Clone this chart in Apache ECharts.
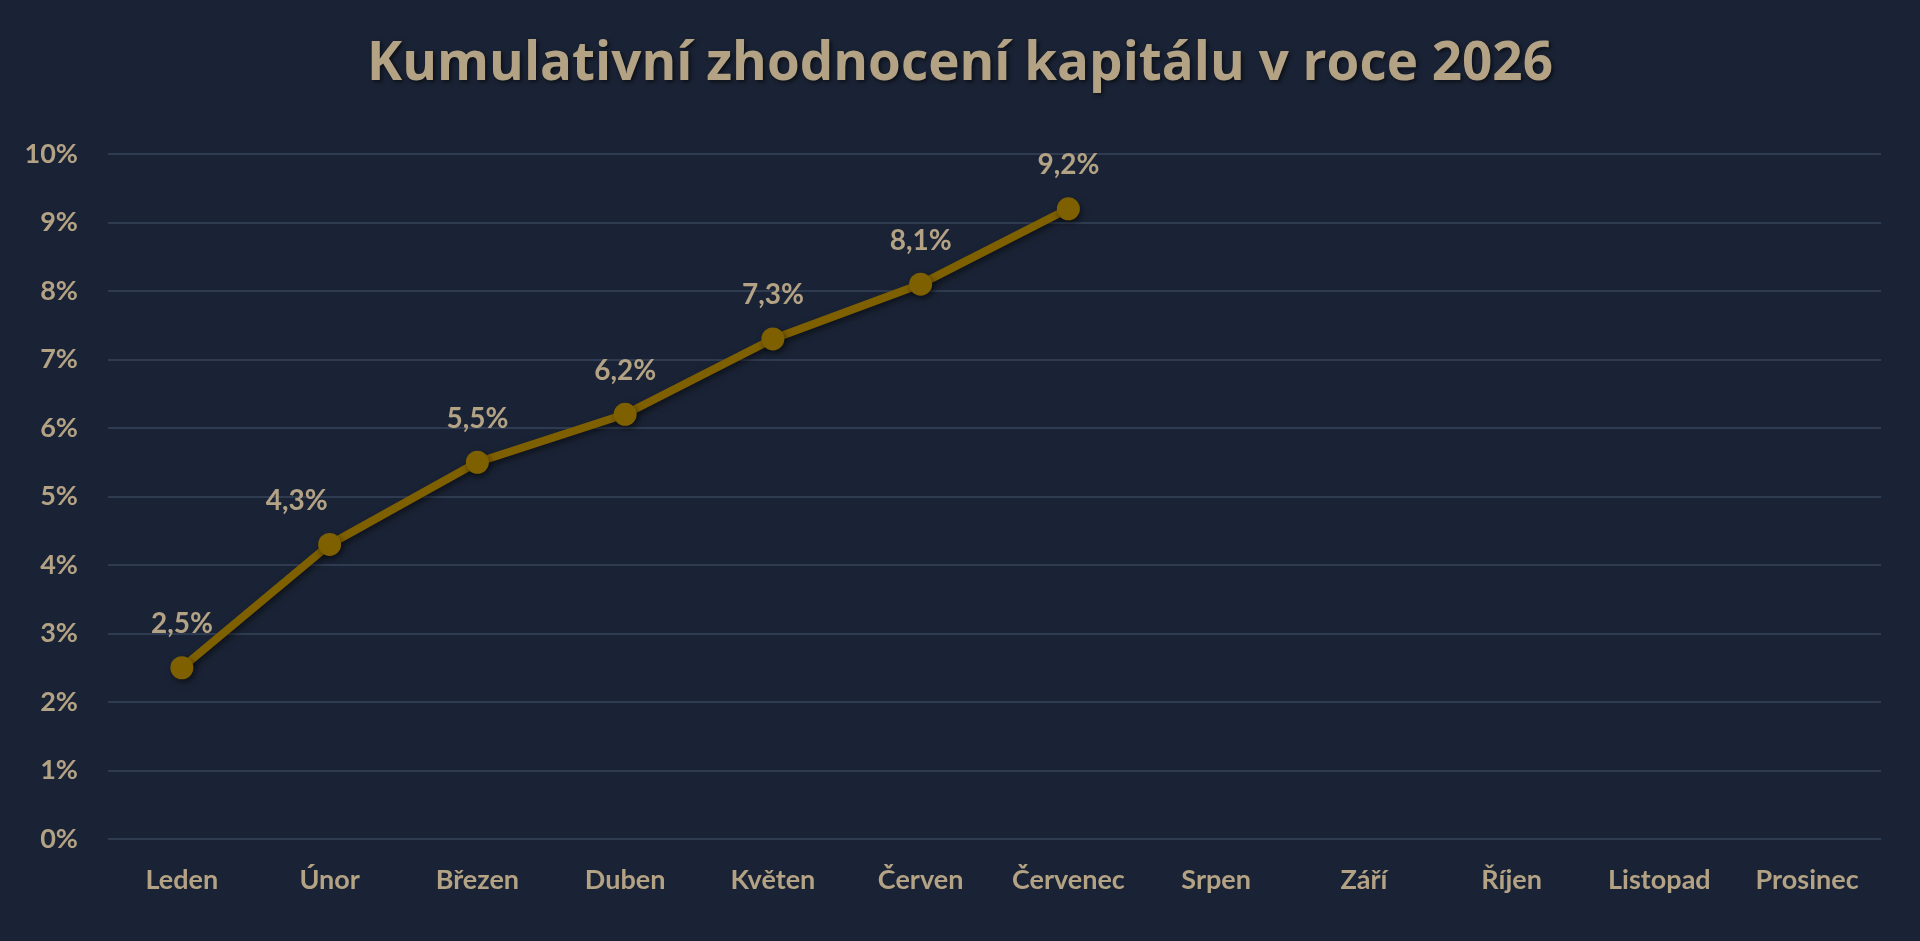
<!DOCTYPE html>
<html>
<head>
<meta charset="utf-8">
<script src="https://cdn.jsdelivr.net/npm/echarts@6/dist/echarts.min.js"></script>
<style>
html,body{margin:0;padding:0;background:#1a2335;}
#chart{width:1920px;height:941px;}
</style>
</head>
<body>
<div id="chart"></div>
<script>
const titleText = 'Kumulativní zhodnocení kapitálu v roce 2026';
const months = ['Leden','Únor','Březen','Duben','Květen','Červen','Červenec','Srpen','Září','Říjen','Listopad','Prosinec'];
const cumulative = [2.5, 4.3, 5.5, 6.2, 7.3, 8.1, 9.2, null, null, null, null, null];
const yTicks = { min: 0, max: 10, interval: 1 };

const textColor = '#b3a284';
const lineColor = '#7f6000';
const gridColor = '#2f3b50';
const fontFamily = 'Lato';

// label of the second point sits left of its marker in the reference
const seriesData = cumulative.map((v, i) =>
  i === 1 ? { value: v, label: { offset: [-33, 0] } } : v
);

const chart = echarts.init(document.getElementById('chart'));
chart.setOption({
  backgroundColor: '#1a2335',
  title: {
    text: titleText,
    left: 'center',
    top: 33,
    textStyle: {
      color: textColor,
      fontFamily: 'Open Sans',
      fontWeight: 'bold',
      fontSize: 53,
      textShadowColor: 'rgba(0,0,0,0.6)',
      textShadowBlur: 4,
      textShadowOffsetX: 2,
      textShadowOffsetY: 2
    }
  },
  grid: { left: 108, right: 39, top: 154, bottom: 102 },
  xAxis: {
    type: 'category',
    data: months,
    boundaryGap: true,
    axisLine: { show: false },
    axisTick: { show: false },
    axisLabel: {
      color: textColor,
      fontFamily: fontFamily,
      fontWeight: 'bold',
      fontSize: 27,
      margin: 28,
      interval: 0
    }
  },
  yAxis: {
    type: 'value',
    min: yTicks.min,
    max: yTicks.max,
    interval: yTicks.interval,
    axisLine: { show: false },
    axisTick: { show: false },
    axisLabel: {
      color: textColor,
      fontFamily: fontFamily,
      fontWeight: 'bold',
      fontSize: 27,
      margin: 30,
      formatter: '{value}%'
    },
    splitLine: { lineStyle: { color: gridColor, width: 2 } }
  },
  series: [{
    type: 'line',
    data: seriesData,
    symbol: 'circle',
    symbolSize: 23,
    itemStyle: {
      color: lineColor,
      shadowColor: 'rgba(0,0,0,0.5)',
      shadowBlur: 6,
      shadowOffsetX: 2,
      shadowOffsetY: 3
    },
    lineStyle: {
      color: lineColor,
      width: 8,
      shadowColor: 'rgba(0,0,0,0.5)',
      shadowBlur: 6,
      shadowOffsetX: 2,
      shadowOffsetY: 3
    },
    label: {
      show: true,
      position: 'top',
      distance: 18,
      color: textColor,
      fontFamily: fontFamily,
      fontWeight: 'bold',
      fontSize: 28,
      formatter: p => p.value == null ? '' : p.value.toFixed(1).replace('.', ',') + '%'
    },
    animation: false
  }],
  animation: false
});
</script>
</body>
</html>
